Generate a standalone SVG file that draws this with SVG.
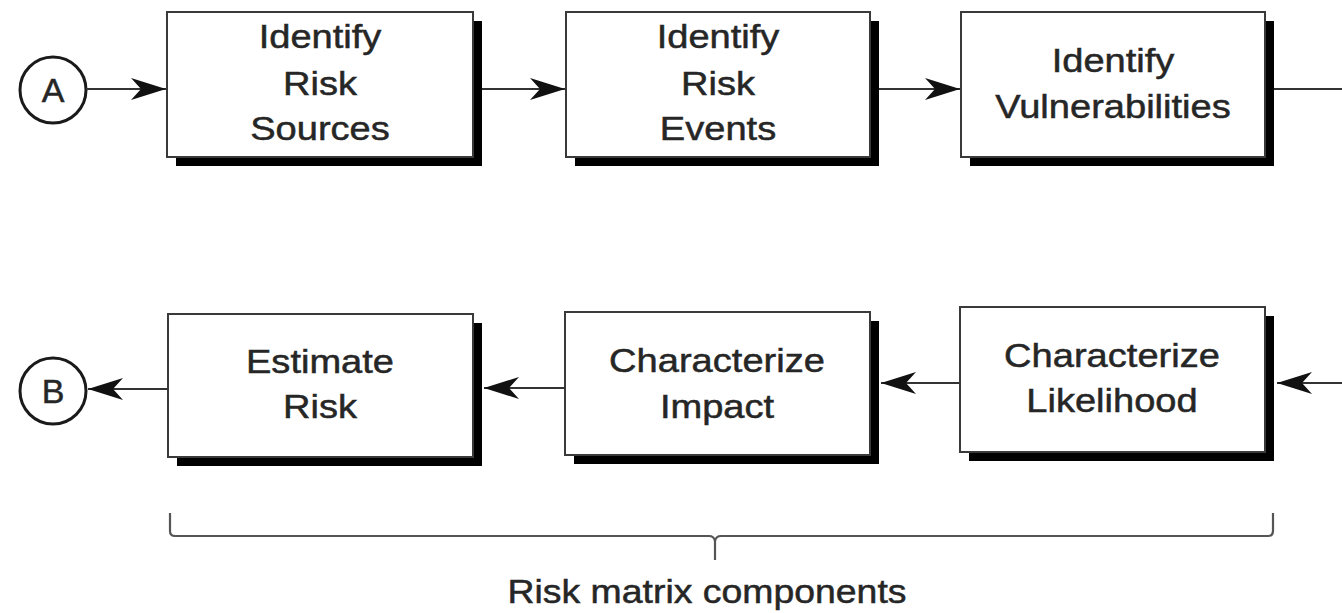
<svg xmlns="http://www.w3.org/2000/svg" width="1342" height="613" viewBox="0 0 1342 613">
<style>
.box{fill:#fff;stroke:#3a3a3a;stroke-width:2}
.shadow{fill:#000}
.lbl{font-family:"Liberation Sans",Arial,sans-serif;font-size:34px;fill:#262626;stroke:#262626;stroke-width:0.5;text-anchor:middle}
.conn{stroke:#333;stroke-width:2;fill:none}
.circ{fill:#fff;stroke:#1a1a1a;stroke-width:3}
</style>
<defs>
<marker id="arr" viewBox="-38 -13 42 26" refX="0" refY="0" markerWidth="42" markerHeight="26" markerUnits="userSpaceOnUse" orient="auto">
<path d="M0,0 L-35,-11 L-25,0 L-35,11 Z" fill="#111"/>
</marker>
</defs>
<rect width="1342" height="613" fill="#fff"/>

<g id="nodeA">
<circle class="circ" cx="53" cy="90" r="33"/>
<text class="lbl" x="53" y="102" font-size="35">A</text>
</g>
<g id="nodeB">
<circle class="circ" cx="53" cy="391" r="33"/>
<text class="lbl" x="53" y="403" font-size="34">B</text>
</g>

<g id="box1">
<rect class="shadow" x="176" y="21" width="306" height="145"/>
<rect class="box" x="167" y="12" width="306" height="145"/>
<g transform="translate(320,0) scale(1.12,1)">
<text class="lbl" x="0" y="48">Identify</text>
<text class="lbl" x="0" y="95">Risk</text>
<text class="lbl" x="0" y="140">Sources</text>
</g>
</g>
<g id="box2">
<rect class="shadow" x="575" y="21" width="304" height="145"/>
<rect class="box" x="566" y="12" width="304" height="145"/>
<g transform="translate(718,0) scale(1.12,1)">
<text class="lbl" x="0" y="48">Identify</text>
<text class="lbl" x="0" y="95">Risk</text>
<text class="lbl" x="0" y="140">Events</text>
</g>
</g>
<g id="box3">
<rect class="shadow" x="970" y="21" width="304" height="145"/>
<rect class="box" x="961" y="12" width="304" height="145"/>
<g transform="translate(1113,0) scale(1.12,1)">
<text class="lbl" x="0" y="72">Identify</text>
<text class="lbl" x="0" y="118">Vulnerabilities</text>
</g>
</g>
<g id="box4">
<rect class="shadow" x="177" y="323" width="305" height="143"/>
<rect class="box" x="168" y="314" width="305" height="143"/>
<g transform="translate(320,0) scale(1.12,1)">
<text class="lbl" x="0" y="373">Estimate</text>
<text class="lbl" x="0" y="418">Risk</text>
</g>
</g>
<g id="box5">
<rect class="shadow" x="574" y="321" width="305" height="143"/>
<rect class="box" x="565" y="312" width="305" height="143"/>
<g transform="translate(717,0) scale(1.12,1)">
<text class="lbl" x="0" y="372">Characterize</text>
<text class="lbl" x="0" y="418">Impact</text>
</g>
</g>
<g id="box6">
<rect class="shadow" x="969" y="316" width="305" height="145"/>
<rect class="box" x="960" y="307" width="305" height="145"/>
<g transform="translate(1112,0) scale(1.12,1)">
<text class="lbl" x="0" y="367">Characterize</text>
<text class="lbl" x="0" y="412">Likelihood</text>
</g>
</g>

<g id="connectors">
<line class="conn" x1="86" y1="89" x2="166" y2="89" marker-end="url(#arr)"/>
<line class="conn" x1="482" y1="89" x2="565" y2="89" marker-end="url(#arr)"/>
<line class="conn" x1="879" y1="89" x2="960" y2="89" marker-end="url(#arr)"/>
<line class="conn" x1="1274" y1="89" x2="1342" y2="89"/>
<line class="conn" x1="1342" y1="383" x2="1277" y2="383" marker-end="url(#arr)"/>
<line class="conn" x1="960" y1="383" x2="881" y2="383" marker-end="url(#arr)"/>
<line class="conn" x1="565" y1="388" x2="484" y2="388" marker-end="url(#arr)"/>
<line class="conn" x1="168" y1="389" x2="88" y2="389" marker-end="url(#arr)"/>
</g>

<g id="brace">
<path d="M170,513 L170,531 Q170,536 175,536 L709,536 Q714,536 715,541 L715,560 M715,541 Q716,536 721,536 L1268,536 Q1273,536 1273,531 L1273,513" fill="none" stroke="#555" stroke-width="2.2"/>
<g transform="translate(707,0) scale(1.1,1)">
<text class="lbl" x="0" y="603" font-size="32">Risk matrix components</text>
</g>
</g>
</svg>
